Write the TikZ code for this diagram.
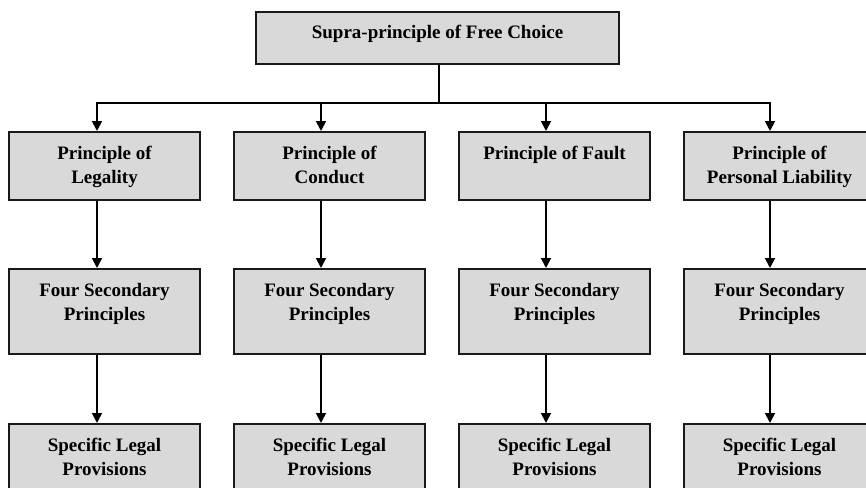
\documentclass[tikz,border=0pt]{standalone}
\usepackage{fontspec}
\setmainfont{Liberation Serif}
\usetikzlibrary{arrows.meta,positioning}
\definecolor{boxgray}{HTML}{D9D9D9}
\tikzset
{
    boxnode/.style   = {draw=black!90, fill=boxgray, line width=2.2pt, inner sep=0pt, anchor=north, font=\fontsize{19}{24}\selectfont\bfseries,
                        execute at begin node={\begin{minipage}[t]{#1}\centering}, execute at end node={\end{minipage}}},
    boxnode/.default = 185pt,
    topnode/.style   = {boxnode=355pt, minimum width=363pt, text height=26pt, text depth=26pt},
    principle/.style = {boxnode, minimum width=191pt, text height=27pt, text depth=41pt},
    secnode/.style   = {boxnode, minimum width=191pt, text height=27pt, text depth=58pt}
}

\begin{document}
\begin{tikzpicture}[x=1pt, y=-1pt, ->, >={Triangle[length=10pt,width=10pt]}, line width=1.8pt]
    \useasboundingbox (0,0) rectangle (866,487);

    % top
    \node [topnode] (free) at (437.5,11) {Supra-principle of Free Choice};
    \coordinate (split) at (439,103);

    % principles
    \node [principle] (leg) at (104.5,131) {Principle of\\Legality};
    \node [principle] (con) at (329.5,131) {Principle of\\Conduct};
    \node [principle] (fau) at (554.5,131) {Principle of Fault};
    \node [principle] (lia) at (779.5,131) {Principle of\\Personal Liability};

    % secondary principles
    \node [secnode] (legsec) at (104.5,268) {Four Secondary\\Principles};
    \node [secnode] (consec) at (329.5,268) {Four Secondary\\Principles};
    \node [secnode] (fausec) at (554.5,268) {Four Secondary\\Principles};
    \node [secnode] (liasec) at (779.5,268) {Four Secondary\\Principles};

    % provisions
    \node [secnode] (legpro) at (104.5,423) {Specific Legal\\Provisions};
    \node [secnode] (conpro) at (329.5,423) {Specific Legal\\Provisions};
    \node [secnode] (faupro) at (554.5,423) {Specific Legal\\Provisions};
    \node [secnode] (liapro) at (779.5,423) {Specific Legal\\Provisions};

    \draw ([xshift=1.5pt]free.south) -- (split) -| ([xshift=-7.5pt]leg.north);
    \draw ([xshift=1.5pt]free.south) -- (split) -| ([xshift=-8.5pt]con.north);
    \draw ([xshift=1.5pt]free.south) -- (split) -| ([xshift=-8.5pt]fau.north);
    \draw ([xshift=1.5pt]free.south) -- (split) -| ([xshift=-9.5pt]lia.north);

    \draw ([xshift=-7.5pt]leg.south) -- ([xshift=-7.5pt]legsec.north);
    \draw ([xshift=-8.5pt]con.south) -- ([xshift=-8.5pt]consec.north);
    \draw ([xshift=-8.5pt]fau.south) -- ([xshift=-8.5pt]fausec.north);
    \draw ([xshift=-9.5pt]lia.south) -- ([xshift=-9.5pt]liasec.north);

    \draw ([xshift=-7.5pt]legsec.south) -- ([xshift=-7.5pt]legpro.north);
    \draw ([xshift=-8.5pt]consec.south) -- ([xshift=-8.5pt]conpro.north);
    \draw ([xshift=-8.5pt]fausec.south) -- ([xshift=-8.5pt]faupro.north);
    \draw ([xshift=-9.5pt]liasec.south) -- ([xshift=-9.5pt]liapro.north);
\end{tikzpicture}
\end{document}
